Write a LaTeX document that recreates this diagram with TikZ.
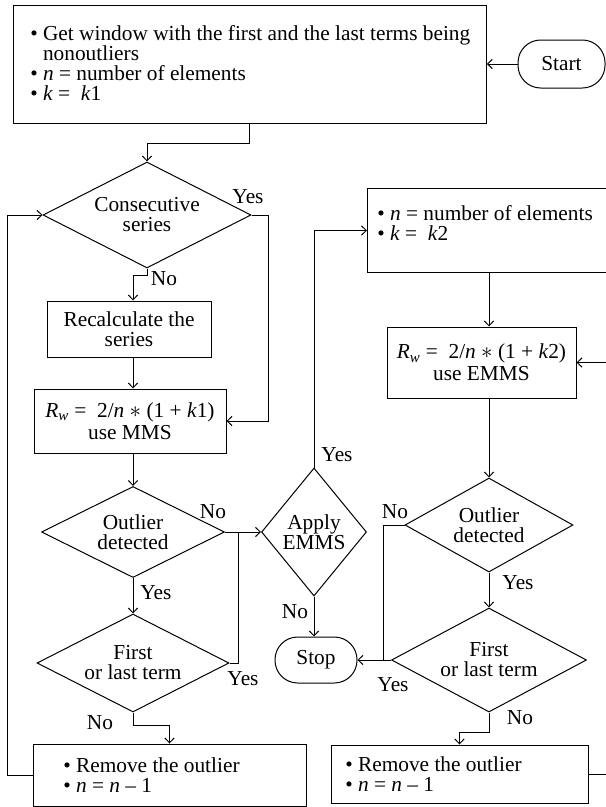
\documentclass[tikz,border=0pt]{standalone}
\usepackage{fontspec}
\setmainfont{Liberation Serif}
\usetikzlibrary{shapes.geometric,arrows.meta,calc}
\newcommand{\pxl}[1]{#1*0.75pt}
\begin{document}
\begin{tikzpicture}[x=0.75pt,y=-0.75pt,
  every node/.style={font=\fontsize{16pt}{15pt}\selectfont, inner sep=0pt},
  line/.style={line width=0.75pt, draw=black},
  arr/.style={line, -{Straight Barb[length=3.6pt,width=7pt]}},
  rbox/.style={draw, line width=0.75pt, rectangle},
  dia/.style={draw, line width=0.75pt, diamond, align=center, inner sep=0pt},
  lbl/.style={}]
\clip (0,0) rectangle (606,807);
\useasboundingbox (0,0) rectangle (606,807);

% ---- left column
\node[rbox, anchor=north west, minimum width=\pxl{473}, minimum height=\pxl{118}] (top) at (12.8,4.7) {};
\node[anchor=west, align=left] (toptxt) at (30,63) {\textbullet\ Get window with the first and the last terms being\\ \hphantom{\textbullet\ }nonoutliers\\ \textbullet\ \textit{n} = number of elements\\ \textbullet\ \textit{k} = \ \textit{k}1};
\node[rbox, rounded corners=17pt, minimum width=\pxl{87}, minimum height=\pxl{48}] (start) at (561.5,64) {Start};

\node[dia, minimum width=\pxl{208}, minimum height=\pxl{106}, shape aspect=1.96] (cons) at (147,215) {Consecutive\\series};
\node[rbox, align=center, minimum width=\pxl{164}, minimum height=\pxl{56}] (recalc) at (129,329) {Recalculate the\\series};
\node[rbox, align=center, minimum width=\pxl{192}, minimum height=\pxl{64}] (mms) at (130,421) {\textit{R}\textsubscript{\textit{w}} = \ 2/\textit{n} $\ast$ (1 + \textit{k}1)\\[1.5pt]use MMS};
\node[dia, minimum width=\pxl{183}, minimum height=\pxl{91}, shape aspect=2] (od1) at (133,532) {Outlier\\detected};
\node[dia, minimum width=\pxl{192}, minimum height=\pxl{98}, shape aspect=1.96] (fd1) at (133,663) {First\\or last term};
\node[rbox, minimum width=\pxl{273}, minimum height=\pxl{62}] (rm1) at (169.5,775) {};
\node[anchor=west, align=left] (rm1txt) at (63,775) {\textbullet\ Remove the outlier\\ \textbullet\ \textit{n} = \textit{n} \textendash\ 1};

% ---- middle
\node[dia, minimum width=\pxl{105}, minimum height=\pxl{128}, shape aspect=0.82] (apply) at (314,532) {Apply\\EMMS};
\node[rbox, rounded corners=17pt, minimum width=\pxl{82}, minimum height=\pxl{46}] (stop) at (316,660) {Stop};

% ---- right column
\node[rbox, anchor=north west, minimum width=\pxl{262}, minimum height=\pxl{84}] (rtop) at (367,188) {};
\node[anchor=west, align=left] (rtoptxt) at (377,223) {\textbullet\ \textit{n} = number of elements\\ \textbullet\ \textit{k} = \ \textit{k}2};
\node[rbox, align=center, minimum width=\pxl{189}, minimum height=\pxl{71}] (emms) at (481.5,362.5) {\textit{R}\textsubscript{\textit{w}} = \ 2/\textit{n} $\ast$ (1 + \textit{k}2)\\[1.5pt]use EMMS};
\node[dia, minimum width=\pxl{168}, minimum height=\pxl{94}, shape aspect=1.79] (od2) at (489,525) {Outlier\\detected};
\node[dia, minimum width=\pxl{195}, minimum height=\pxl{104}, shape aspect=1.875] (fd2) at (489,660) {First\\or last term};
\node[rbox, minimum width=\pxl{257}, minimum height=\pxl{58}] (rm2) at (459.5,774) {};
\node[anchor=west, align=left] (rm2txt) at (345,774) {\textbullet\ Remove the outlier\\ \textbullet\ \textit{n} = \textit{n} \textendash\ 1};

\coordinate (j1) at (238,532);
\coordinate (j2) at (383,660);

% ---- connectors
\draw[arr] (start.west) -- (start.west -| top.east);
\draw[arr] (top.south) -- ++(0,20) -| (cons.north);
\draw[arr] (cons.east) -- ++(17,0) |- (mms.east);
\draw[arr] (cons.south) -- ++(0,7) -| (recalc.north -| od1.north);
\draw[arr] (recalc.south -| od1.north) -- (mms.north -| od1.north);
\draw[arr] (mms.south -| od1.north) -- (od1.north);
\draw[arr] (od1.east) -- (apply.west);
\draw[arr] (od1.south) -- (fd1.north);
\draw[line] (fd1.east) -| (j1);
\draw[arr] (fd1.south) -- ++(0,13) -| (rm1.north);
\draw[arr] (rm1.west) -- ++(-25,0) |- (cons.west);
\draw[arr] (apply.north) |- (rtop.west);
\draw[arr] (apply.south) -- (stop.north -| apply.south);
\draw[arr] (rtop.south -| od2.north) -- (emms.north -| od2.north);
\draw[arr] (emms.south -| od2.north) -- (od2.north);
\draw[line] (od2.west) -| (j2);
\draw[arr] (fd2.west) -- (stop.east);
\draw[arr] (od2.south) -- (fd2.north);
\draw[arr] (fd2.south) -- ++(0,20) -| (rm2.north);
\draw[arr] (rm2.east) -- ++(40,0) |- (emms.east);

% ---- labels
\node (y1) at (248,197) {Yes};
\node (n1) at (164,279) {No};
\node (n2) at (213,512) {No};
\node (y2) at (156,593) {Yes};
\node (y3) at (243,679) {Yes};
\node (n3) at (100,723) {No};
\node (y4) at (337,455) {Yes};
\node (n4) at (295,612) {No};
\node (n5) at (395,512) {No};
\node (y5) at (518,583) {Yes};
\node (y6) at (393,685) {Yes};
\node (n6) at (520,718) {No};
\end{tikzpicture}
\end{document}
